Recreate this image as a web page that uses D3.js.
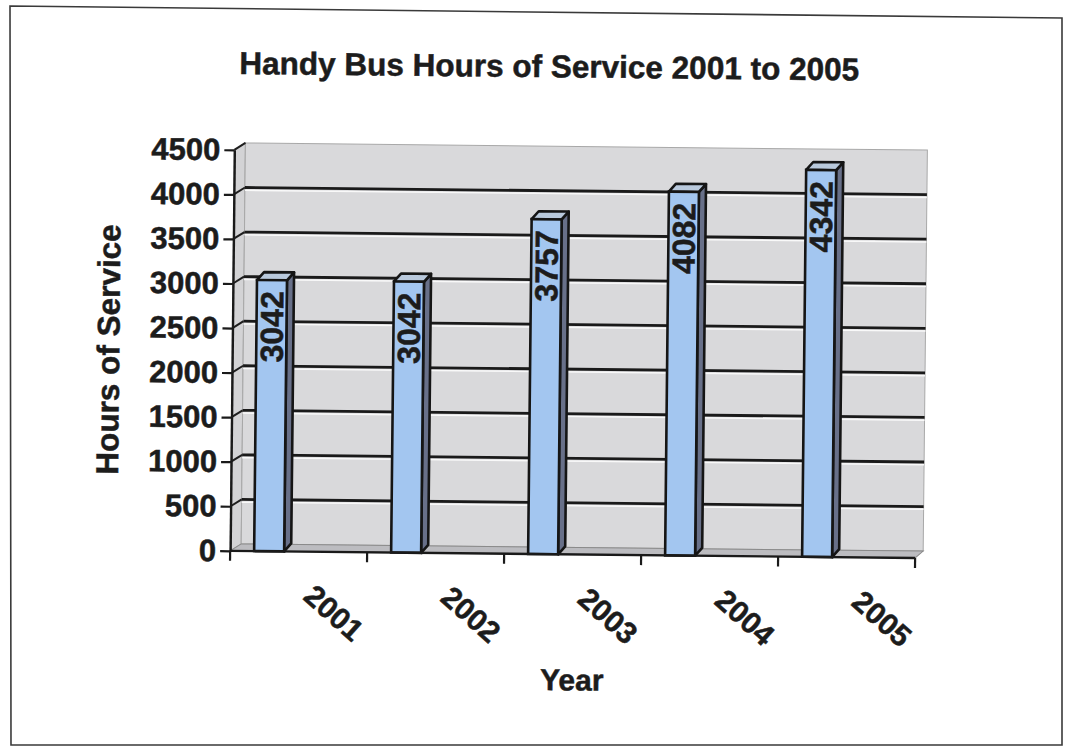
<!DOCTYPE html>
<html>
<head>
<meta charset="utf-8">
<script src="https://cdn.jsdelivr.net/npm/d3@7"></script>
<style>
  html, body { margin: 0; padding: 0; background: #fff; }
  svg { display: block; }
  text { font-family: "Liberation Sans", Arial, Helvetica, sans-serif; font-weight: bold; fill: #1c1c1c; stroke: #1c1c1c; stroke-width: 0.5px; }
</style>
</head>
<body>
<svg id="chart" width="1068" height="749"></svg>
<script>
// Handy Bus yearly hours of service
const years = ["2001", "2002", "2003", "2004", "2005"];
const hours = [3042, 3042, 3757, 4082, 4342];
const yTicks = [0, 500, 1000, 1500, 2000, 2500, 3000, 3500, 4000, 4500];

const svg = d3.select("#chart");

// page frame
svg.append("path")
  .attr("d", "M10,6 L1062,18 L1062,745 L11,745 Z")
  .attr("fill", "none").attr("stroke", "#3a3a3a").attr("stroke-width", 1.6);

// whole chart sits slightly tilted on the page
const g = svg.append("g").attr("transform", "rotate(0.6,534,375)");

const y = d3.scaleLinear().domain([0, 4500]).range([554, 153]);
const x = d3.scaleBand().domain(years).range([232, 917]);

// 3-D depth of the walls and of the columns
const wallDx = 11, wallDy = -7;
const barDx = 7, barDy = -8;
const barOff = 24, barW = 30;

const x0 = x.range()[0], x1 = x.range()[1];
const yTop = y(4500), yBase = y(0);

// side wall
g.append("path")
  .attr("d", `M${x0},${yTop} L${x0 + wallDx},${yTop + wallDy} L${x0 + wallDx},${yBase + wallDy} L${x0},${yBase} Z`)
  .attr("fill", "#d3d3d5").attr("stroke", "#9a9a9a").attr("stroke-width", 1);

// back wall
g.append("rect")
  .attr("x", x0 + wallDx).attr("y", yTop + wallDy)
  .attr("width", x1 + wallDx - 3 - (x0 + wallDx)).attr("height", yBase - yTop)
  .attr("fill", "#d9d9db").attr("stroke", "#a8a8a8").attr("stroke-width", 1);

// floor
g.append("path")
  .attr("d", `M${x0},${yBase} L${x0 + wallDx},${yBase + wallDy} L${x1 + wallDx - 3},${yBase + wallDy} L${x1},${yBase} Z`)
  .attr("fill", "#bcbcc0").attr("stroke", "#8a8a8a").attr("stroke-width", 1);

// gridlines on the back wall, with the joining strokes across the side wall
const gridVals = yTicks.filter(v => v > 0 && v < 4500);
const grid = g.append("g");
grid.selectAll("line.halo").data(gridVals).join("line")
  .attr("class", "halo")
  .attr("x1", x0 + wallDx).attr("x2", x1 + wallDx - 3)
  .attr("y1", d => y(d) + wallDy + 2.8).attr("y2", d => y(d) + wallDy + 2.8)
  .attr("stroke", "#ffffff").attr("stroke-width", 1.5).attr("opacity", 0.85);
grid.selectAll("line.major").data(gridVals).join("line")
  .attr("class", "major")
  .attr("x1", x0 + wallDx).attr("x2", x1 + wallDx - 3)
  .attr("y1", d => y(d) + wallDy).attr("y2", d => y(d) + wallDy)
  .attr("stroke", "#1a1a1a").attr("stroke-width", 2.8);
grid.selectAll("line.side").data(yTicks.filter(v => v > 0)).join("line")
  .attr("class", "side")
  .attr("x1", x0).attr("x2", x0 + wallDx)
  .attr("y1", d => y(d)).attr("y2", d => y(d) + wallDy)
  .attr("stroke", "#1e1e1e").attr("stroke-width", 2);

// columns
const bars = g.append("g").selectAll("g.bar")
  .data(years.map((yr, i) => ({ year: yr, value: hours[i] })))
  .join("g").attr("class", "bar");

bars.append("path") // right side face
  .attr("d", d => {
    const xr = x(d.year) + barOff + barW, yt = y(d.value);
    return `M${xr},${yt} L${xr + barDx},${yt + barDy} L${xr + barDx},${yBase + barDy} L${xr},${yBase} Z`;
  })
  .attr("fill", "#687089").attr("stroke", "#151515").attr("stroke-width", 2.6).attr("stroke-linejoin", "round");

bars.append("path") // top face
  .attr("d", d => {
    const xl = x(d.year) + barOff, yt = y(d.value);
    return `M${xl},${yt} L${xl + barDx},${yt + barDy} L${xl + barW + barDx},${yt + barDy} L${xl + barW},${yt} Z`;
  })
  .attr("fill", "#b9c9dc").attr("stroke", "#151515").attr("stroke-width", 2.6).attr("stroke-linejoin", "round");

bars.append("rect") // front face
  .attr("x", d => x(d.year) + barOff)
  .attr("y", d => y(d.value))
  .attr("width", barW)
  .attr("height", d => yBase - y(d.value))
  .attr("fill", "#a3c6f0").attr("stroke", "#151515").attr("stroke-width", 2.6);

// value labels inside the columns
bars.append("text")
  .attr("transform", d => `translate(${x(d.year) + barOff + barW / 2},${y(d.value) + 11}) rotate(-90)`)
  .attr("text-anchor", "end")
  .attr("dy", "0.36em")
  .style("font-size", "32px")
  .text(d => d.value);

// y axis
const yAxis = g.append("g")
  .attr("transform", `translate(${x0},0)`)
  .call(d3.axisLeft(y).tickValues(yTicks).tickFormat(d3.format("d"))
    .tickSize(10).tickPadding(4).tickSizeOuter(0));
yAxis.select(".domain").attr("stroke", "#1a1a1a").attr("stroke-width", 2.4);
yAxis.selectAll(".tick line").attr("stroke", "#1a1a1a").attr("stroke-width", 2.2);
yAxis.selectAll(".tick text")
  .style("font-size", "31px").style("font-family", "'Liberation Sans', Arial, sans-serif")
  .style("font-weight", "bold").attr("fill", "#1c1c1c")
  .attr("stroke", "#1c1c1c").attr("stroke-width", 0.5);

// x axis along the front edge of the floor
const xAxis = g.append("g");
xAxis.append("line")
  .attr("x1", x0).attr("x2", x1).attr("y1", yBase).attr("y2", yBase)
  .attr("stroke", "#1a1a1a").attr("stroke-width", 2.4);
const bounds = years.map(d => x(d)).concat([x1]);
xAxis.selectAll("line.tick").data(bounds).join("line")
  .attr("class", "tick")
  .attr("x1", d => d).attr("x2", d => d)
  .attr("y1", yBase).attr("y2", yBase + 10)
  .attr("stroke", "#1a1a1a").attr("stroke-width", 2.2);
xAxis.selectAll("text").data(years).join("text")
  .attr("transform", d => `translate(${x(d) + x.bandwidth() / 2 + 36},615) rotate(41)`)
  .attr("text-anchor", "middle")
  .attr("dy", "0.35em")
  .style("font-size", "30px")
  .text(d => d);

// titles
g.append("text")
  .attr("x", 546).attr("y", 77)
  .attr("text-anchor", "middle")
  .style("font-size", "31.5px")
  .text("Handy Bus Hours of Service 2001 to 2005");

g.append("text")
  .attr("transform", "translate(119,354) rotate(-90)")
  .attr("text-anchor", "middle")
  .style("font-size", "31.5px")
  .text("Hours of Service");

g.append("text")
  .attr("x", 575).attr("y", 690)
  .attr("text-anchor", "middle")
  .style("font-size", "30px")
  .text("Year");
</script>
</body>
</html>
